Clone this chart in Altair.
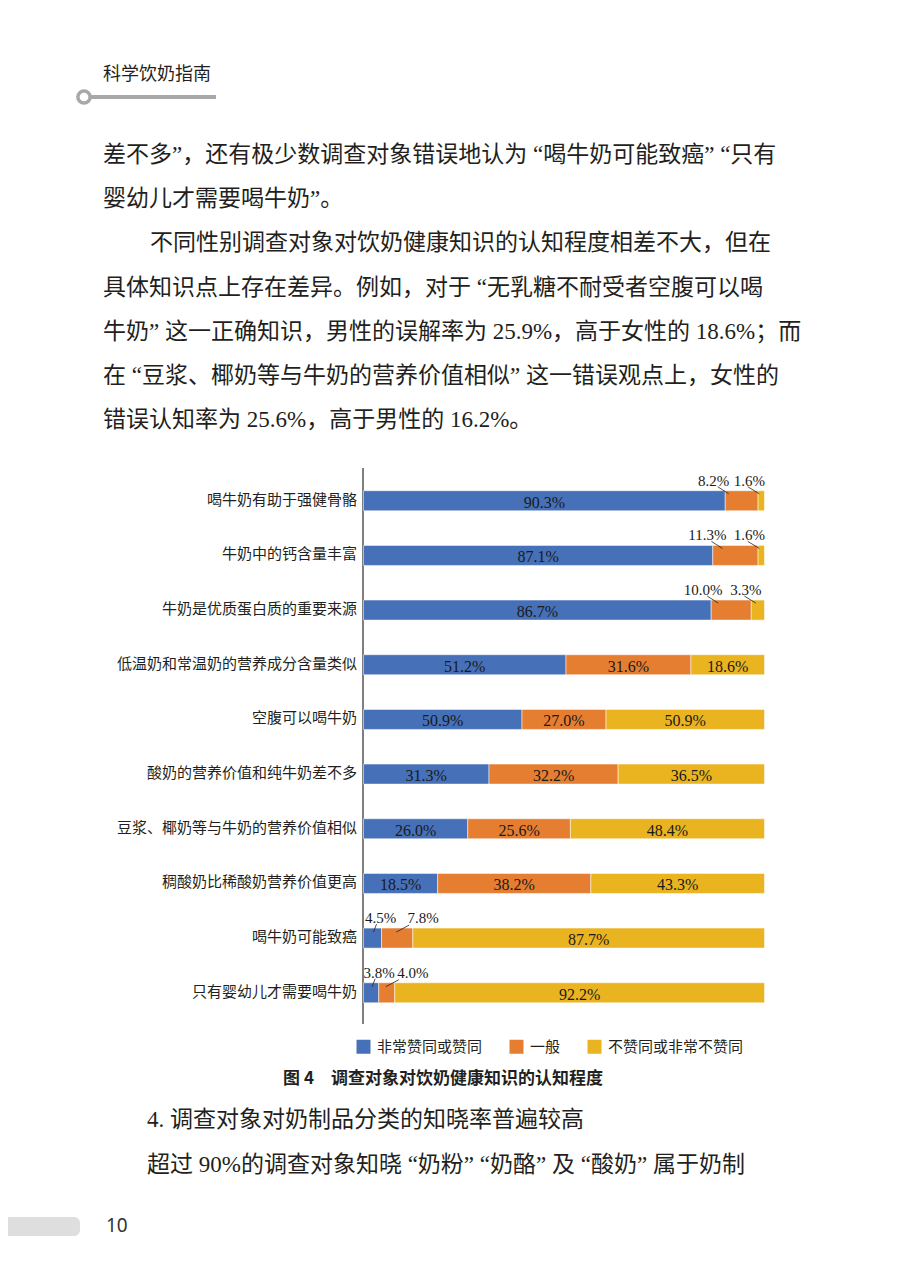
import altair as alt
import pandas as pd

# ---------------- data ----------------
categories = [
    "喝牛奶有助于强健骨骼",
    "牛奶中的钙含量丰富",
    "牛奶是优质蛋白质的重要来源",
    "低温奶和常温奶的营养成分含量类似",
    "空腹可以喝牛奶",
    "酸奶的营养价值和纯牛奶差不多",
    "豆浆、椰奶等与牛奶的营养价值相似",
    "稠酸奶比稀酸奶营养价值更高",
    "喝牛奶可能致癌",
    "只有婴幼儿才需要喝牛奶",
]
series = ["非常赞同或赞同", "一般", "不赞同或非常不赞同"]
agree = [90.3, 87.1, 86.7, 51.2, 50.9, 31.3, 26.0, 18.5, 4.5, 3.8]
neutral = [8.2, 11.3, 10.0, 31.6, 27.0, 32.2, 25.6, 38.2, 7.8, 4.0]
disagree = [1.6, 1.6, 3.3, 18.6, 50.9, 36.5, 48.4, 43.3, 87.7, 92.2]
colors = ["#4670B7", "#E67E32", "#E9B420"]

header_text = "科学饮奶指南"
body_lines = [
    "差不多”，还有极少数调查对象错误地认为 “喝牛奶可能致癌” “只有",
    "婴幼儿才需要喝牛奶”。",
    "不同性别调查对象对饮奶健康知识的认知程度相差不大，但在",
    "具体知识点上存在差异。例如，对于 “无乳糖不耐受者空腹可以喝",
    "牛奶” 这一正确知识，男性的误解率为 25.9%，高于女性的 18.6%；而",
    "在 “豆浆、椰奶等与牛奶的营养价值相似” 这一错误观点上，女性的",
    "错误认知率为 25.6%，高于男性的 16.2%。",
]
body_indent = [False, False, True, False, False, False, False]
caption_text = "图 4　调查对象对饮奶健康知识的认知程度"
after_lines = [
    "4. 调查对象对奶制品分类的知晓率普遍较高",
    "超过 90%的调查对象知晓 “奶粉” “奶酪” 及 “酸奶” 属于奶制",
]
page_number = "10"

rows = []
for i, c in enumerate(categories):
    for j, (s, vals) in enumerate(zip(series, [agree, neutral, disagree])):
        rows.append({"cat": c, "series": s, "order": j, "value": vals[i]})
df = pd.DataFrame(rows)

# ---------------- styling ----------------
BODY_FONT = "Liberation Serif, Noto Sans CJK SC"
CJK_FONT = "Noto Sans CJK SC"
NUM_FONT = "Liberation Serif"
INK = "#231f20"
BODY_SIZE = 23

xscale = alt.Scale(domain=[0, 1], range=[355.5, 756.5])
yscale = alt.Scale(domain=categories, range=[465.4, 1012.1],
                   paddingInner=0.634, paddingOuter=0.317)

base = (
    alt.Chart(df)
    .transform_stack(stack="value", groupby=["cat"], as_=["v0", "v1"],
                     offset="normalize",
                     sort=[alt.SortField("order", order="ascending")])
    .transform_calculate(mid="(datum.v0 + datum.v1) / 2",
                         share="datum.v1 - datum.v0",
                         label="format(datum.value, '.1f') + '%'")
)

bars = base.mark_bar(stroke="white", strokeWidth=0.5).encode(
    x=alt.X("v0:Q", scale=xscale, axis=None),
    x2="v1:Q",
    y=alt.Y("cat:N", scale=yscale, axis=None),
    color=alt.Color(
        "series:N",
        scale=alt.Scale(domain=series, range=colors),
        legend=alt.Legend(
            orient="none", legendX=348, legendY=1031, direction="horizontal",
            title=None, symbolType="square", symbolSize=196,
            symbolStrokeWidth=0, labelFont=CJK_FONT, labelFontSize=15,
            labelColor=INK, columnPadding=26, labelOffset=6, padding=0,
        ),
    ),
)

inside = base.transform_filter("datum.share >= 0.15").mark_text(
    font=NUM_FONT, fontSize=16, color="#1a1a1a", baseline="middle", dy=2
).encode(
    x=alt.X("mid:Q", scale=xscale, axis=None),
    y=alt.Y("cat:N", scale=yscale, axis=None),
    text="label:N",
)


def outside(cond, dx, ax, bx, ay, by):
    sub = base.transform_filter(cond)
    t = sub.mark_text(font=NUM_FONT, fontSize=15, color="#1a1a1a",
                      baseline="alphabetic", dx=dx, dy=-15).encode(
        x=alt.X("mid:Q", scale=xscale, axis=None),
        y=alt.Y("cat:N", scale=yscale, axis=None),
        text="label:N",
    )
    r = sub.mark_rule(color="#222222", strokeWidth=0.8, xOffset=ax,
                      x2Offset=bx, yOffset=ay, y2Offset=by).encode(
        x=alt.X("mid:Q", scale=xscale, axis=None),
        x2="mid:Q",
        y=alt.Y("cat:N", scale=yscale, axis=None),
        y2="cat:N",
    )
    return [t, r]


ann = []
ann += outside("datum.share < 0.15 && datum.v0 > 0.5 && datum.order == 1", -28, -24, -13, -14, -7)
ann += outside("datum.share < 0.15 && datum.v0 > 0.5 && datum.order == 2", -12, -13.5, -2, -14, -7)
ann += outside("datum.share < 0.15 && datum.v1 < 0.5 && datum.order == 0", 8, 4, 1, -14, -6)
ann += outside("datum.share < 0.15 && datum.v1 < 0.5 && datum.order == 1", 26, 12, -1, -13, -6)

cat_labels = alt.Chart(pd.DataFrame({"cat": categories})).mark_text(
    align="right", baseline="middle", font=CJK_FONT, fontSize=15,
    color=INK, dy=-1
).encode(
    y=alt.Y("cat:N", scale=yscale, axis=None),
    x=alt.value(349),
    text="cat:N",
)

one = pd.DataFrame({"k": [0]})
axis_line = alt.Chart(one).mark_rule(color="#555555", strokeWidth=1.5).encode(
    x=alt.value(355), y=alt.value(460), y2=alt.value(1016)
)

# ---------------- page furniture ----------------
layers = []
layers.append(alt.Chart(one).mark_rule(color="#a8a8a8", strokeWidth=4).encode(
    x=alt.value(83), x2=alt.value(208), y=alt.value(89)))
layers.append(alt.Chart(one).mark_point(shape="circle", size=150, filled=False,
                                        fill="white", fillOpacity=1,
                                        stroke="#a8a8a8", strokeWidth=3.5,
                                        opacity=1).encode(
    x=alt.value(76), y=alt.value(89)))
layers.append(alt.Chart(pd.DataFrame({"t": [header_text]})).mark_text(
    align="left", baseline="middle", font=CJK_FONT, fontSize=18, color=INK
).encode(x=alt.value(95), y=alt.value(67), text="t:N"))

for i, (line, ind) in enumerate(zip(body_lines, body_indent)):
    layers.append(alt.Chart(pd.DataFrame({"t": [line]})).mark_text(
        align="left", baseline="middle", font=BODY_FONT, fontSize=BODY_SIZE,
        color=INK
    ).encode(x=alt.value(142 if ind else 95), y=alt.value(147 + i * 44.2),
             text="t:N"))

layers.append(alt.Chart(pd.DataFrame({"t": [caption_text]})).mark_text(
    align="center", baseline="middle", font=CJK_FONT, fontSize=17,
    fontWeight="bold", color=INK
).encode(x=alt.value(435), y=alt.value(1071), text="t:N"))

for i, line in enumerate(after_lines):
    layers.append(alt.Chart(pd.DataFrame({"t": [line]})).mark_text(
        align="left", baseline="middle", font=BODY_FONT, fontSize=BODY_SIZE,
        color=INK
    ).encode(x=alt.value(139), y=alt.value(1112 + i * 45), text="t:N"))

layers.append(alt.Chart(one).mark_rect(color="#dedede", cornerRadius=6).encode(
    x=alt.value(-20), x2=alt.value(72), y=alt.value(1209), y2=alt.value(1228)))
layers.append(alt.Chart(pd.DataFrame({"t": [page_number]})).mark_text(
    align="left", baseline="middle", font="Noto Sans", fontSize=19, color="#333333"
).encode(x=alt.value(98), y=alt.value(1218), text="t:N"))

chart = alt.layer(
    *layers, axis_line, bars, inside, *ann, cat_labels
).properties(
    width=884, height=1266, padding=0,
    autosize=alt.AutoSizeParams(type="none"),
    background="white",
).configure_view(stroke=None)

chart.save("out.html", embed_options={"renderer": "svg", "actions": False})
